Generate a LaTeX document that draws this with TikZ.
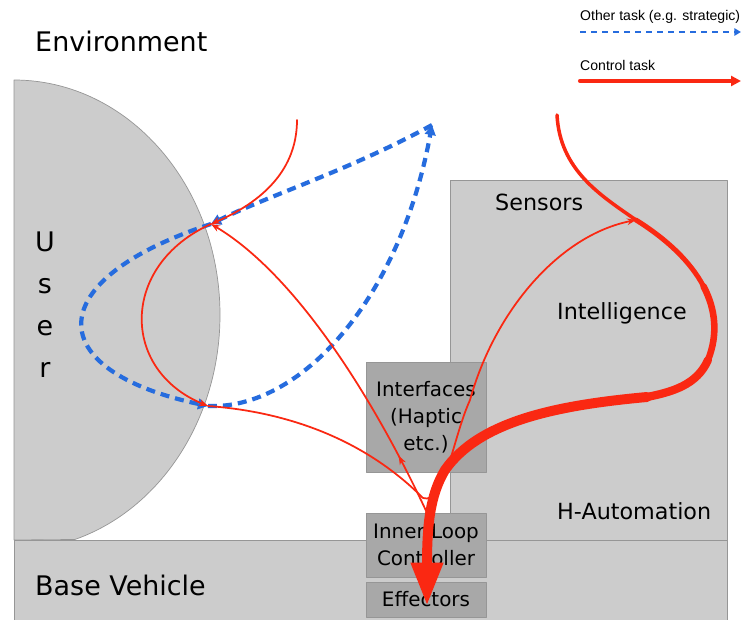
\documentclass[tikz,border=0pt]{standalone}
\usepackage{fontspec}
\setmainfont{DejaVu Sans}
\newfontfamily\legendfont{Liberation Sans}
\usepackage{xcolor}
\usetikzlibrary{arrows}
\usetikzlibrary{arrows.meta,decorations.markings,calc}
\definecolor{ctrlred}{RGB}{250,40,18}
\definecolor{taskblue}{RGB}{38,108,222}
\definecolor{areagray}{RGB}{204,204,204}
\definecolor{boxgray}{RGB}{168,168,168}
\definecolor{edgegray}{RGB}{150,150,150}
\tikzset{
  area/.style={fill=areagray,draw=edgegray,line width=0.6pt},
  unitbox/.style={rectangle,fill=boxgray,draw=edgegray,line width=0.6pt,minimum width=3.6cm,inner sep=0pt,align=center,font=\fontsize{17}{23}\selectfont},
  ctrl/.style={color=ctrlred,line width=1.5pt,-{Stealth[length=0.27cm,width=0.2cm]}},
  task/.style={color=taskblue,line width=3.6pt,line cap=butt,dash pattern=on 0.27cm off 0.18cm,-{Triangle[length=0.3cm,width=0.32cm]}},
  biglabel/.style={font=\fontsize{23}{28}\selectfont,anchor=base west,inner sep=0pt},
  midlabel/.style={font=\fontsize{19}{23}\selectfont,anchor=base west,inner sep=0pt},
  keylabel/.style={font=\legendfont\fontsize{12}{14}\selectfont,anchor=base west,inner sep=0pt}
}
\begin{document}
\begin{tikzpicture}[line cap=round,line join=round,x=0.03cm,y=0.03cm]
                \useasboundingbox [fill=white] (0,0) rectangle (743,-620);
                \filldraw [area] (14,-540) -- (14,-80) arc [start angle=90,end angle=-72.8,x radius=206,y radius=235] -- cycle;
                \draw [area] (450,-180) rectangle (727,-540);
                \draw [area] (14,-540) rectangle (727,-625);
                \node [unitbox,minimum height=3.3cm] (iface) at (426,-417) {Interfaces\\(Haptic\\etc.)};
                \node [unitbox,minimum height=1.92cm] (inner) at (426,-545) {Inner Loop\\Controller};
                \node [unitbox,minimum height=1.05cm] (effect) at (426,-599.5) {Effectors};
                \node [biglabel] (envlbl) at (35,-52) {Environment};
                \node [biglabel] (vehlbl) at (35,-595) {Base Vehicle};
                \node [midlabel] (senslbl) at (495,-211) {Sensors};
                \node [midlabel] (intlbl) at (557,-320) {Intelligence};
                \node [midlabel] (autolbl) at (557,-519) {H-Automation};
                \node [biglabel,anchor=base] (usrU) at (45,-252) {U};
                \node [biglabel,anchor=base] (usrS) at (45,-294) {s};
                \node [biglabel,anchor=base] (usrE) at (45,-336) {e};
                \node [biglabel,anchor=base] (usrR) at (45,-378) {r};
                \node [keylabel] (keytask) at (580,-21) {Other task (e.g. strategic)};
                \node [keylabel] (keyctrl) at (580,-71) {Control task};
                \coordinate (keytaskL) at (580,-32);
                \coordinate (keytaskR) at (741,-32);
                \coordinate (keyctrlL) at (580,-81);
                \coordinate (keyctrlR) at (741,-81);
                \coordinate (uin) at (211,-224);
                \coordinate (uout) at (208,-406);
                \coordinate (apex) at (432,-125);
                \coordinate (sens) at (636,-220);
                \coordinate (vbot) at (423,-498);
                \coordinate (fbfoot) at (428,-515);
                \coordinate (envtop) at (297,-120);
                \coordinate (autotop) at (557,-115);
                \coordinate (swell) at (703.5,-286.25);
                \coordinate (bulge) at (708,-360);
                \coordinate (kink) at (647,-397);
                \coordinate (effin) at (427,-606);
                \draw [task,line width=2pt,dash pattern=on 0.18cm off 0.15cm,-{Triangle[length=0.2cm,width=0.22cm]}] (keytaskL) -- (keytaskR);
                \draw [color=ctrlred,line width=3.5pt,-{Triangle[length=0.3cm,width=0.3cm]}] (keyctrlL) -- (keyctrlR);
                \draw [task] (uout) .. controls (300,-410) and (400,-300) .. (apex);
                \draw [task] (apex) .. controls (350,-170) and (270,-195) .. (uin);
                \draw [task] (uin) .. controls (40,-280) and (40,-370) .. (uout);
                \draw [ctrl] (envtop) .. controls (297,-175) and (255,-205) .. (uin);
                \draw [ctrl] (uin) .. controls (120,-265) and (120,-370) .. (uout);
                \draw [ctrl] (uout) .. controls (330,-415) and (395,-470) .. (vbot) .. controls (445,-505) and (452,-440) .. (470,-400) .. controls (495,-310) and (560,-235) .. (sens);
                \draw [ctrl,postaction={decorate,decoration={markings,mark=at position 0.18 with {\arrow{Stealth[length=0.27cm,width=0.2cm]}}}}] (fbfoot) .. controls (370,-390) and (292,-272) .. (uin);
                \draw [color=ctrlred,line width=3pt] (autotop) .. controls (560,-170) and (600,-195) .. (sens);
                \draw [color=ctrlred,line width=4.2pt] (sens) .. controls (668,-240) and (691,-262.5) .. (swell);
                \draw [color=ctrlred,line width=5.6pt] (swell) .. controls (716,-310) and (718,-335) .. (bulge);
                \draw [color=ctrlred,line width=7pt] (bulge) .. controls (697,-385) and (672,-392) .. (kink);
                \draw [color=ctrlred,line width=8.5pt,-{Triangle[length=1.3cm,width=0.9cm]}] (kink) .. controls (560,-405) and (480,-420) .. (445,-470) .. controls (430,-495) and (427,-525) .. (effin);
            \end{tikzpicture}
\end{document}
